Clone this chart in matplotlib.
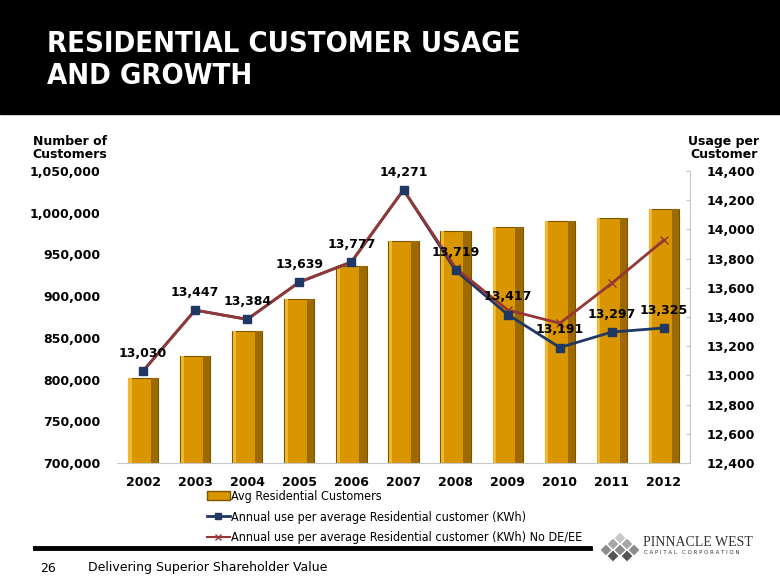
import matplotlib
matplotlib.use("Agg")
import matplotlib.pyplot as plt
from matplotlib.ticker import FuncFormatter
import numpy as np

years = ["2002", "2003", "2004", "2005", "2006", "2007", "2008", "2009", "2010", "2011", "2012"]
customers = [802000, 828000, 858500, 896000, 936500, 966500, 978000, 983000, 990000, 994000, 1005000]
usage = [13030, 13447, 13384, 13639, 13777, 14271, 13719, 13417, 13191, 13297, 13325]
usage_no_deee = [13030, 13447, 13384, 13639, 13777, 14271, 13735, 13448, 13357, 13631, 13927]

gold = "#D99600"
blue = "#1F3864"
red = "#953735"

fig = plt.figure(figsize=(7.8, 5.85), dpi=100)

# header band and title
fig.patches.append(plt.Rectangle((0, 1 - 114 / 585), 1, 114 / 585, transform=fig.transFigure,
                                 color="black", zorder=0))
fig.text(47 / 780, 1 - 60 / 585, "RESIDENTIAL CUSTOMER USAGE\nAND GROWTH", color="white",
         fontsize=21, fontweight="bold", fontstretch="condensed", va="center", ha="left",
         linespacing=1.15)

ax = fig.add_axes([117 / 780, 1 - 463 / 585, 573 / 780, 292 / 585])
x = np.arange(len(years))

ax.bar(x, customers, width=0.58, color=gold, edgecolor="#7a5500", linewidth=0.8,
       label="Avg Residential Customers", zorder=2)
# shading strips for a bit of depth
ax.bar(x + 0.22, customers, width=0.14, color="#9c6a00", linewidth=0, zorder=2.1)
ax.bar(x - 0.25, customers, width=0.06, color="#f0b830", linewidth=0, zorder=2.1)

ax.set_ylim(700000, 1050000)
ax.set_xlim(-0.5, len(years) - 0.5)
ax.set_yticks(np.arange(700000, 1050001, 50000))
ax.yaxis.set_major_formatter(FuncFormatter(lambda v, p: f"{int(v):,}"))
ax.set_xticks(x)
ax.set_xticklabels(years)
for lab in ax.get_xticklabels() + ax.get_yticklabels():
    lab.set_fontweight("bold")
    lab.set_fontsize(9)
ax.tick_params(axis="y", length=0, pad=12)
ax.tick_params(axis="x", length=0, pad=9)
for s in ["top", "left", "right"]:
    ax.spines[s].set_visible(False)
ax.spines["bottom"].set_color("#c8c8c8")

ax2 = ax.twinx()
ax2.set_ylim(12400, 14400)
ax2.set_yticks(np.arange(12400, 14401, 200))
ax2.yaxis.set_major_formatter(FuncFormatter(lambda v, p: f"{int(v):,}"))
for lab in ax2.get_yticklabels():
    lab.set_fontweight("bold")
    lab.set_fontsize(9)
ax2.tick_params(axis="y", direction="in", length=3, color="#c8c8c8", pad=12)
for s in ["top", "left", "bottom"]:
    ax2.spines[s].set_visible(False)
ax2.spines["right"].set_color("#c8c8c8")

ax2.plot(x, usage, color=blue, lw=2, zorder=3)
ax2.plot(x, usage_no_deee, color=red, lw=2, marker="x", ms=6, zorder=4)
ax2.plot(x, usage, color=blue, lw=0, marker="s", ms=6, zorder=5)
for xi, v in zip(x, usage):
    ax2.annotate(f"{v:,}", (xi, v), xytext=(0, 8), textcoords="offset points",
                 ha="center", va="bottom", fontsize=9, fontweight="bold", zorder=6)

fig.text(70 / 780, 1 - 148 / 585, "Number of\nCustomers", ha="center", va="center",
         fontsize=9, fontweight="bold", linespacing=1.05)
fig.text(724 / 780, 1 - 148 / 585, "Usage per\nCustomer", ha="center", va="center",
         fontsize=9, fontweight="bold", linespacing=1.05)

# legend
h1 = plt.Rectangle((0, 0), 1, 1, color=gold, ec="#7a5500")
h2 = plt.Line2D([], [], color=blue, lw=2, marker="s", ms=5)
h3 = plt.Line2D([], [], color=red, lw=1.5, marker="x", ms=5)
fig.legend([h1, h2, h3],
           ["Avg Residential Customers",
            "Annual use per average Residential customer (KWh)",
            "Annual use per average Residential customer (KWh) No DE/EE"],
           loc="upper left", bbox_to_anchor=(207 / 780, 1 - 490 / 585), frameon=False,
           prop={"size": 9, "stretch": "condensed"}, handlelength=1.8, handletextpad=0.1,
           labelspacing=0.6, borderaxespad=0, borderpad=0)

# footer
fig.add_artist(plt.Line2D([35 / 780, 590 / 780], [1 - 548 / 585, 1 - 548 / 585],
                          transform=fig.transFigure, color="black", lw=3.5))
fig.text(40 / 780, 1 - 568 / 585, "26", fontsize=9, va="center", ha="left")
fig.text(88 / 780, 1 - 568 / 585, "Delivering Superior Shareholder Value", fontsize=9,
         va="center", ha="left")

# logo
lax = fig.add_axes([598 / 780, 1 - 562 / 585, 44 / 780, 30 / 585])
lax.set_xlim(598, 642)
lax.set_ylim(562, 532)
lax.axis("off")
logo_x = [620, 613, 627, 606, 620, 634, 613, 627]
logo_y = [538, 544, 544, 550, 550, 550, 556, 556]
logo_c = ["#c8c8c8", "#a8a8a8", "#a8a8a8", "#8a8a8a", "#8a8a8a", "#8a8a8a", "#555555", "#555555"]
lax.scatter(logo_x, logo_y, marker="D", s=30, c=logo_c, linewidths=0)
fig.text(643 / 780, 1 - 542 / 585, "PINNACLE WEST", fontsize=10, family="Liberation Serif",
         color="#333333", va="center", ha="left")
fig.text(644 / 780, 1 - 553 / 585, "C A P I T A L   C O R P O R A T I O N", fontsize=4,
         color="#333333", va="center", ha="left")

fig.savefig("out.png", dpi=100)
